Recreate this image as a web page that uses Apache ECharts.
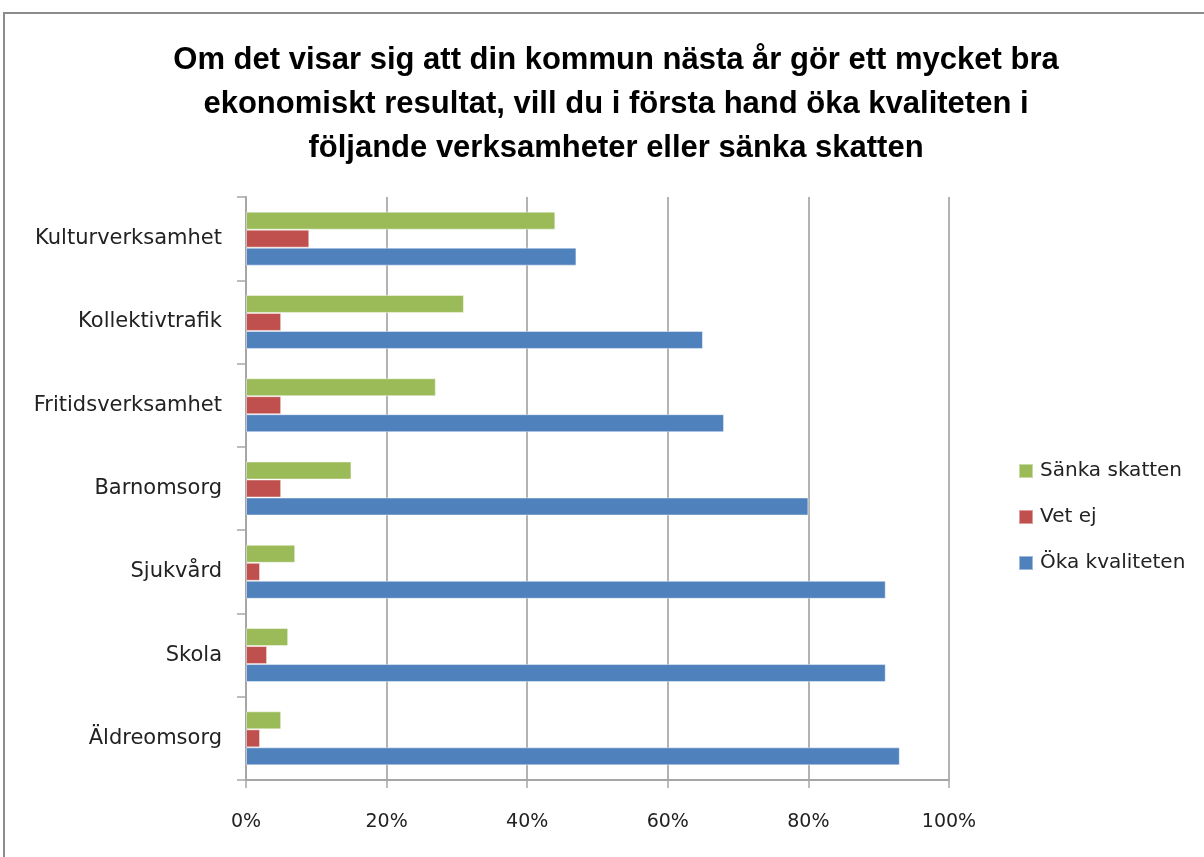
<!DOCTYPE html>
<html>
<head>
<meta charset="utf-8">
<title>Öka kvaliteten eller sänka skatten</title>
<script src="https://cdn.jsdelivr.net/npm/echarts@6/dist/echarts.min.js"></script>
<style>
html, body {
	margin: 0;
	padding: 0;
	background: #fff;
}
#chart {
	width: 1204px;
	height: 857px;
}
</style>
</head>
<body>
<div id="chart"></div>
<script type="text/javascript">
    // categories, bottom to top as they sit on the y axis
    var categories = ['Äldreomsorg', 'Skola', 'Sjukvård', 'Barnomsorg', 'Fritidsverksamhet', 'Kollektivtrafik', 'Kulturverksamhet'];

    // percent values per series
    var okaKvaliteten = [93, 91, 91, 80, 68, 65, 47];
    var vetEj = [2, 3, 2, 5, 5, 5, 9];
    var sankaSkatten = [5, 6, 7, 15, 27, 31, 44];

    var xTicks = [0, 20, 40, 60, 80, 100];

    var titleFont = '"Liberation Sans", Arial, sans-serif';
    var font = '"DejaVu Sans", sans-serif';

    var myChart = echarts.init(document.getElementById('chart'));

    function barStyle(color) {
        return {
            color: color,
            borderColor: 'rgba(255,255,255,0.45)',
            borderWidth: 1
        };
    }

    var option = {
        backgroundColor: '#fff',
        animation: false,
        // outer frame of the chart area
        graphic: [{
            type: 'rect',
            shape: {x: 4, y: 13, width: 1260, height: 900},
            style: {fill: 'none', stroke: '#8c8c8c', lineWidth: 2},
            silent: true
        }],
        title: {
            text: 'Om det visar sig att din kommun nästa år gör ett mycket bra\nekonomiskt resultat, vill du i första hand öka kvaliteten i\nföljande verksamheter eller sänka skatten',
            left: 611,
            textAlign: 'center',
            top: 33,
            textStyle: {
                fontFamily: titleFont,
                fontSize: 31,
                fontWeight: 'bold',
                color: '#000',
                lineHeight: 44
            }
        },
        legend: {
            orient: 'vertical',
            left: 1013,
            top: 456,
            itemWidth: 14,
            itemHeight: 14,
            itemGap: 26,
            icon: 'rect',
            data: ['Sänka skatten', 'Vet ej', 'Öka kvaliteten'],
            textStyle: {
                fontFamily: font,
                fontSize: 20,
                color: '#222',
                padding: [0, 0, 0, 2]
            }
        },
        grid: {
            left: 246,
            right: 255,
            top: 197,
            bottom: 77,
            containLabel: false
        },
        xAxis: {
            type: 'value',
            min: xTicks[0],
            max: xTicks[xTicks.length - 1],
            interval: 20,
            axisLine: {show: true, lineStyle: {color: '#a6a6a6', width: 2}},
            axisTick: {show: true, length: 8, lineStyle: {color: '#a6a6a6', width: 1.5}},
            splitLine: {show: true, lineStyle: {color: '#9a9a9a', width: 1.5}},
            axisLabel: {
                margin: 33,
                fontFamily: font,
                fontSize: 19,
                color: '#222',
                formatter: function (v) { return v + '%'; }
            }
        },
        yAxis: {
            type: 'category',
            data: categories,
            axisLine: {show: true, lineStyle: {color: '#a6a6a6', width: 2}},
            axisTick: {show: true, length: 9, lineStyle: {color: '#a6a6a6', width: 1.5}},
            axisLabel: {
                margin: 24,
                fontFamily: font,
                fontSize: 21,
                color: '#222'
            }
        },
        // series order: first one sits at the top of each group
        series: [{
            name: 'Sänka skatten',
            type: 'bar',
            data: sankaSkatten,
            barWidth: 18,
            barGap: '0%',
            itemStyle: barStyle('#9bbb59')
        }, {
            name: 'Vet ej',
            type: 'bar',
            data: vetEj,
            barWidth: 18,
            barGap: '0%',
            itemStyle: barStyle('#c0504d')
        }, {
            name: 'Öka kvaliteten',
            type: 'bar',
            data: okaKvaliteten,
            barWidth: 18,
            barGap: '0%',
            itemStyle: barStyle('#4f81bd')
        }]
    };

    myChart.setOption(option);
</script>
</body>
</html>
